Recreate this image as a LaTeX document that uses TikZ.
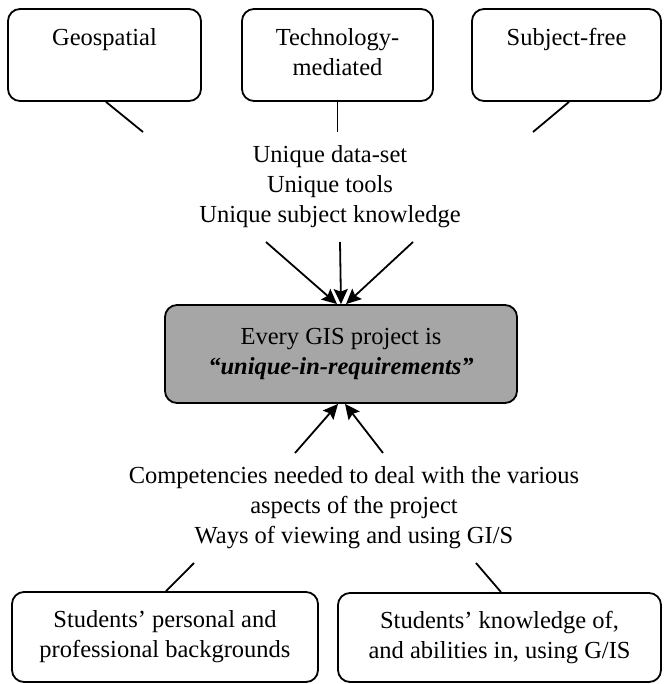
\documentclass[tikz,border=0pt]{standalone}
\usepackage{fontspec}
\setmainfont{Liberation Serif}
\usetikzlibrary{arrows.meta}
\definecolor{boxgray}{RGB}{166,166,166}
\begin{document}
\begin{tikzpicture}[x=1pt,y=-1pt,
  every node/.style={font=\fontsize{24.5}{30}\selectfont, align=center, inner sep=0pt},
  rbox/.style={draw, line width=1.8pt, rounded corners=12pt},
  link/.style={line width=1.8pt},
  tip/.style={line width=1.8pt, -{Stealth[length=15pt,width=14pt,inset=2.5pt]}}]
\useasboundingbox (0,0) rectangle (663,684);
\fill[white] (0,0) rectangle (663,684);

% three project characteristics
\node[rbox, minimum width=193pt, minimum height=92pt] (geo) at (104.5,55) {\strut Geospatial\\\strut};
\node[rbox, minimum width=191pt, minimum height=92pt] (tech) at (337.5,55) {\strut Technology-\\\strut mediated};
\node[rbox, minimum width=189pt, minimum height=92pt] (subj) at (566.5,55) {\strut Subject-free\\\strut};

% what makes each project unique
\node (uniq) at (330,187) {Unique data-set\\Unique tools\\Unique subject knowledge};

% central statement
\node[rbox, fill=boxgray, minimum width=352pt, minimum height=98pt] (core) at (341,354)
  {\fontsize{24.5}{29}\selectfont Every GIS project is\\\textbf{\textit{“unique-in-requirements”}}};

% competencies
\node (comp) at (354,508) {Competencies needed to deal with the various\\aspects of the project\\Ways of viewing and using GI/S};

% student factors
\node[rbox, minimum width=306pt, minimum height=90pt] (back) at (165,637) {Students’ personal and\\professional backgrounds};
\node[rbox, minimum width=323pt, minimum height=89pt] (know) at (499.5,637.5) {Students’ knowledge of,\\and abilities in, using G/IS};

% free ends of the connectors
\coordinate (ga) at (143,132);
\coordinate (ta) at (337.5,132);
\coordinate (sa) at (533,132);
\coordinate (u1) at (266,242);
\coordinate (u2) at (340,242);
\coordinate (u3) at (413,242);
\coordinate (c1) at (295,453);
\coordinate (c2) at (383,453);
\coordinate (bl) at (194,563);
\coordinate (br) at (476,563);

% connectors
\draw[link] ([xshift=1.5pt]geo.south) -- (ga);
\draw[link] (tech.south) -- (ta);
\draw[link] ([xshift=2.5pt]subj.south) -- (sa);

\draw[tip] (u1) -- ([xshift=-4pt]core.north);
\draw[tip] (u2) -- (core.north);
\draw[tip] (u3) -- ([xshift=5pt]core.north);

\draw[tip] (c1) -- ([xshift=-3pt]core.south);
\draw[tip] (c2) -- ([xshift=4pt]core.south);

\draw[link] (bl) -- ([xshift=1pt]back.north);
\draw[link] (br) -- ([xshift=1.5pt]know.north);
\end{tikzpicture}
\end{document}
